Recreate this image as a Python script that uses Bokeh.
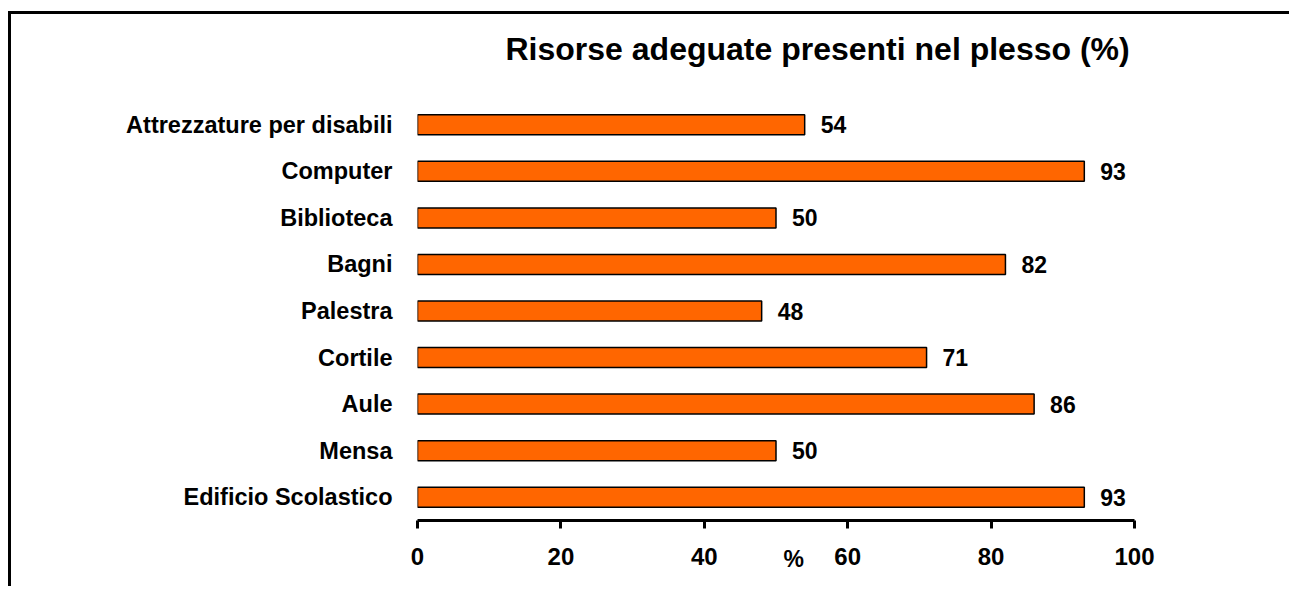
from bokeh.plotting import figure
from bokeh.models import Range1d, FactorRange, ColumnDataSource, LabelSet, Title
from bokeh.core.properties import value
from bokeh.embed import file_html
from bokeh.resources import INLINE

categories = ["Attrezzature per disabili", "Computer", "Biblioteca", "Bagni", "Palestra",
              "Cortile", "Aule", "Mensa", "Edificio Scolastico"]
values = [54, 93, 50, 82, 48, 71, 86, 50, 93]
x_ticks = [0, 20, 40, 60, 80, 100]
title_text = "Risorse adeguate presenti nel plesso (%)"
x_label = "%"

FONT = "Liberation Sans"

src = ColumnDataSource(dict(cat=categories, val=values, txt=[str(v) for v in values]))

p = figure(width=1281, height=575, output_backend="svg", toolbar_location=None,
           x_range=Range1d(0, 100), y_range=FactorRange(factors=categories[::-1]),
           min_border_left=406, min_border_right=158, min_border_top=87, min_border_bottom=69)
p.styles = {"border-left": "3px solid black", "border-top": "3px solid black",
            "margin-left": "8px", "margin-top": "11px"}
p.outline_line_color = None
p.xgrid.grid_line_color = None
p.ygrid.grid_line_color = None
p.background_fill_color = "white"
p.border_fill_color = "white"

# spacer between plot area and title, then the title itself
p.add_layout(Title(text=" ", standoff=32, text_font_size="1px"), "above")
p.add_layout(Title(text=title_text, align="left", offset=88, standoff=0,
                   text_font=FONT, text_font_style="bold", text_font_size="32px",
                   text_color="black"), "above")

p.hbar(y="cat", right="val", left=0, height=0.43, source=src,
       fill_color="#FF6600", line_color="black", line_width=1.5)

labels = LabelSet(x="val", y="cat", text="txt", source=src, x_offset=16,
                  text_baseline="middle", text_align="left",
                  text_font=value(FONT), text_font_style="bold", text_font_size="23px",
                  text_color="black")
p.add_layout(labels)

# x axis
xa = p.xaxis[0]
xa.ticker = x_ticks
xa.axis_line_width = 3
xa.axis_line_color = "black"
xa.major_tick_line_width = 3
xa.major_tick_line_color = "black"
xa.major_tick_in = 0
xa.major_tick_out = 8
xa.minor_tick_line_color = None
xa.major_label_text_font = FONT
xa.major_label_text_font_style = "bold"
xa.major_label_text_font_size = "24px"
xa.major_label_text_color = "black"
xa.major_label_standoff = 19

# y axis
ya = p.yaxis[0]
ya.axis_line_color = None
ya.major_tick_line_color = None
ya.minor_tick_line_color = None
ya.major_label_text_font = FONT
ya.major_label_text_font_style = "bold"
ya.major_label_text_font_size = "23.5px"
ya.major_label_text_color = "black"
ya.major_label_standoff = 19

p.add_layout(Title(text=x_label, align="left", offset=366, standoff=-44,
                   vertical_align="top",
                   text_font=FONT, text_font_style="bold", text_font_size="23px",
                   text_color="black"), "below")

open("out.html", "w").write(file_html(p, INLINE))
